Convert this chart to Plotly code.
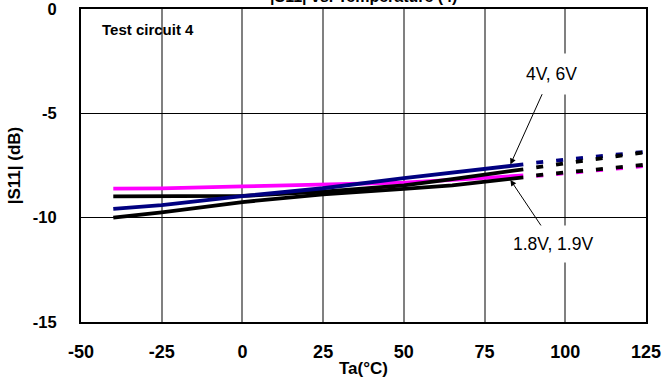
import plotly.graph_objects as go

# ---- data ----
x_solid = [-40, -25, 0, 25, 50, 65, 87]
magenta_solid = [-8.61, -8.60, -8.50, -8.43, -8.32, -8.19, -7.98]
black2_solid = [-10.0, -9.75, -9.25, -8.88, -8.62, -8.45, -8.07]
black1_solid = [-8.98, -8.98, -8.96, -8.75, -8.45, -8.15, -7.68]
blue_solid = [-9.58, -9.40, -8.97, -8.59, -8.11, -7.85, -7.45]

x_dash = [91, 125]
magenta_dash = [-8.00, -7.52]
black2_dash = [-7.97, -7.46]
blue_dash = [-7.36, -6.84]
black1_dash = [-7.59, -6.86]

x_ticks = [-50, -25, 0, 25, 50, 75, 100, 125]
y_ticks = [0, -5, -10, -15]
black_grid_x = [0, 50, 100]

FONT = "Liberation Sans, Arial, sans-serif"

fig = go.Figure()

series = [
    (x_solid, magenta_solid, "#FF00FF", "solid"),
    (x_solid, black2_solid, "#000000", "solid"),
    (x_solid, black1_solid, "#000000", "solid"),
    (x_solid, blue_solid, "#000080", "solid"),
    (x_dash, magenta_dash, "#FF00FF", "7px,13px"),
    (x_dash, blue_dash, "#000080", "7px,13px"),
    (x_dash, black2_dash, "#000000", "7px,13px"),
    (x_dash, black1_dash, "#000000", "7px,13px"),
]
for xs, ys, col, dash in series:
    fig.add_trace(go.Scatter(x=xs, y=ys, mode="lines",
                             line=dict(color=col, width=3.8, dash=dash),
                             showlegend=False, hoverinfo="skip"))

for gx in black_grid_x:
    fig.add_shape(type="line", xref="x", yref="paper", x0=gx, x1=gx, y0=0, y1=1,
                  line=dict(color="black", width=1), layer="below")

fig.update_xaxes(range=[-50, 125], tickvals=x_ticks, ticktext=[str(v) for v in x_ticks],
                 showgrid=True, gridcolor="#808080", gridwidth=1.5,
                 showline=True, linecolor="black", linewidth=2, mirror=True,
                 ticks="", ticklabelstandoff=12, zeroline=False, automargin=False,
                 ticklabeloverflow="allow",
                 tickfont=dict(family=FONT, size=18, color="black", weight="bold"),
                 title=dict(text="Ta(°C)", standoff=2,
                            font=dict(family=FONT, size=17, color="black", weight="bold")))
fig.update_yaxes(range=[-15, 0], tickvals=y_ticks, ticktext=[str(v) for v in y_ticks],
                 showgrid=True, gridcolor="black", gridwidth=1,
                 showline=True, linecolor="black", linewidth=2, mirror=True,
                 ticks="", ticklabelstandoff=19, zeroline=False, automargin=False,
                 ticklabeloverflow="allow",
                 tickfont=dict(family=FONT, size=16.5, color="black", weight="bold"),
                 title=dict(text="|S11| (dB)", standoff=8,
                            font=dict(family=FONT, size=17, color="black", weight="bold")))

fig.add_annotation(text="|S11| vs. Temperature (4)", xref="paper", yref="paper",
                   x=0.5, y=1, xanchor="center", yanchor="bottom", yshift=2,
                   showarrow=False,
                   font=dict(family=FONT, size=16, color="black", weight="bold"))
fig.add_annotation(text="Test circuit 4", xref="paper", yref="paper",
                   x=0.033, y=0.933, xanchor="left", yanchor="middle", showarrow=False,
                   font=dict(family=FONT, size=15, color="black", weight="bold"))
fig.add_annotation(text="4V, 6V", x=83, y=-7.45, ax=95.7, ay=-3.1, axref="x", ayref="y",
                   showarrow=True, arrowhead=2, arrowsize=1.2, arrowwidth=1, arrowcolor="black",
                   bgcolor="white", borderpad=10,
                   font=dict(family=FONT, size=17.5, color="black"))
fig.add_annotation(text="1.8V, 1.9V", x=83, y=-8.19, ax=96.3, ay=-11.26, axref="x", ayref="y",
                   showarrow=True, arrowhead=2, arrowsize=1.2, arrowwidth=1, arrowcolor="black",
                   bgcolor="white", borderpad=8,
                   font=dict(family=FONT, size=17.5, color="black"))

fig.update_layout(width=668, height=391, margin=dict(l=81, r=22, t=9, b=69, autoexpand=False),
                  plot_bgcolor="white", paper_bgcolor="white")

fig.write_html("out.html")
